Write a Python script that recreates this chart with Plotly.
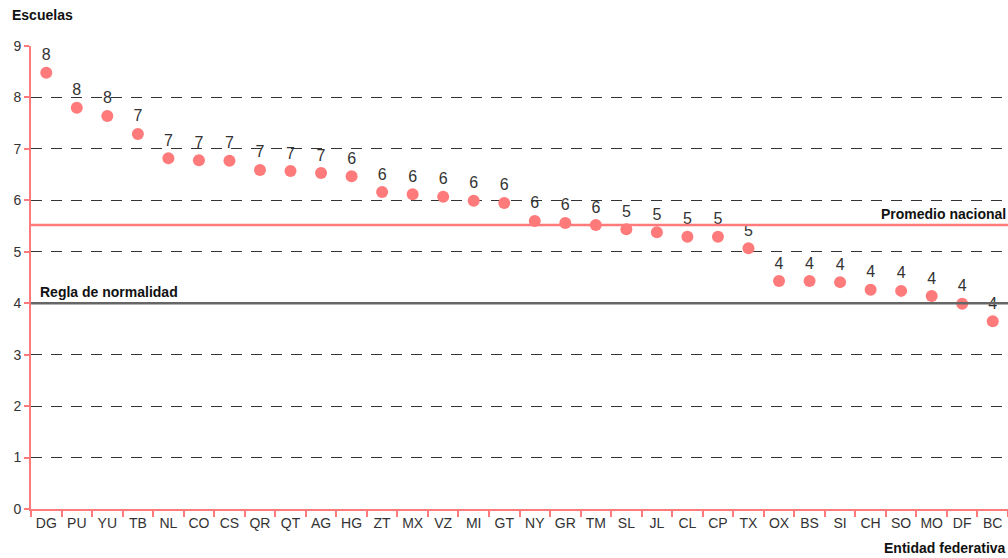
import plotly.graph_objects as go

estados = ["DG","PU","YU","TB","NL","CO","CS","QR","QT","AG","HG","ZT","MX","VZ","MI","GT",
           "NY","GR","TM","SL","JL","CL","CP","TX","OX","BS","SI","CH","SO","MO","DF","BC"]
escuelas = [8.48,7.80,7.64,7.29,6.82,6.78,6.77,6.59,6.57,6.53,6.47,6.16,6.12,6.07,5.99,5.95,
            5.60,5.56,5.52,5.44,5.38,5.29,5.29,5.07,4.43,4.43,4.41,4.26,4.24,4.14,3.99,3.65]
promedio_nacional = 5.52
regla_normalidad = 4.0
y_ticks = [0,1,2,3,4,5,6,7,8,9]

RED = "#ff7a7a"
FONT = "Liberation Sans"

fig = go.Figure()
fig.add_trace(go.Scatter(
    x=estados, y=escuelas, mode="markers+text",
    marker=dict(color=RED, size=12),
    text=[str(int(round(v))) for v in escuelas],
    textposition="top center",
    textfont=dict(family=FONT, size=16, color="#333333"),
    cliponaxis=False, showlegend=False, hoverinfo="x+y",
))

fig.add_shape(type="line", xref="paper", x0=0, x1=1, yref="y",
              y0=promedio_nacional, y1=promedio_nacional,
              line=dict(color=RED, width=2.5))
fig.add_shape(type="line", xref="paper", x0=0, x1=1, yref="y",
              y0=regla_normalidad, y1=regla_normalidad,
              line=dict(color="#666666", width=2.5))

fig.add_annotation(xref="paper", x=1, yref="y", y=promedio_nacional,
                   text="<b>Promedio nacional</b>", showarrow=False,
                   xanchor="right", yanchor="bottom", yshift=1,
                   font=dict(family=FONT, size=14, color="#111111"))
fig.add_annotation(xref="paper", x=0.007, yref="y", y=regla_normalidad,
                   text="<b>Regla de normalidad</b>", showarrow=False,
                   xanchor="left", yanchor="bottom", yshift=1,
                   font=dict(family=FONT, size=14, color="#111111"))
fig.add_annotation(xref="paper", x=-0.022, xanchor="left", yref="paper", y=1.045,
                   yanchor="bottom", text="<b>Escuelas</b>", showarrow=False,
                   font=dict(family=FONT, size=14, color="#111111"))
fig.add_annotation(xref="paper", x=1, xanchor="right", yref="paper", y=-0.062,
                   yanchor="top", text="<b>Entidad federativa</b>", showarrow=False,
                   font=dict(family=FONT, size=14, color="#111111"))

fig.update_layout(
    width=1008, height=558,
    margin=dict(l=31, r=0, t=46, b=49),
    plot_bgcolor="white", paper_bgcolor="white",
    font=dict(family=FONT, size=14, color="#333333"),
    xaxis=dict(
        type="category", range=[-0.5, len(estados) - 0.5],
        showline=True, linecolor=RED, linewidth=2,
        ticks="outside", tickson="boundaries", tickcolor=RED, ticklen=6, tickwidth=2,
        tickangle=0, showgrid=False,
        tickfont=dict(family=FONT, size=14, color="#333333"),
    ),
    yaxis=dict(
        range=[0, 9], tickvals=y_ticks,
        showline=True, linecolor=RED, linewidth=2,
        ticks="outside", tickcolor=RED, ticklen=5, tickwidth=2,
        showgrid=True, gridcolor="#333333", gridwidth=1, griddash="11px,9px",
        zeroline=False, tickfont=dict(family=FONT, size=14, color="#333333"),
    ),
)

fig.write_html(
    "out.html",
    config={"displayModeBar": False},
    post_script="document.body.style.margin='0';document.body.style.overflow='hidden';",
)
